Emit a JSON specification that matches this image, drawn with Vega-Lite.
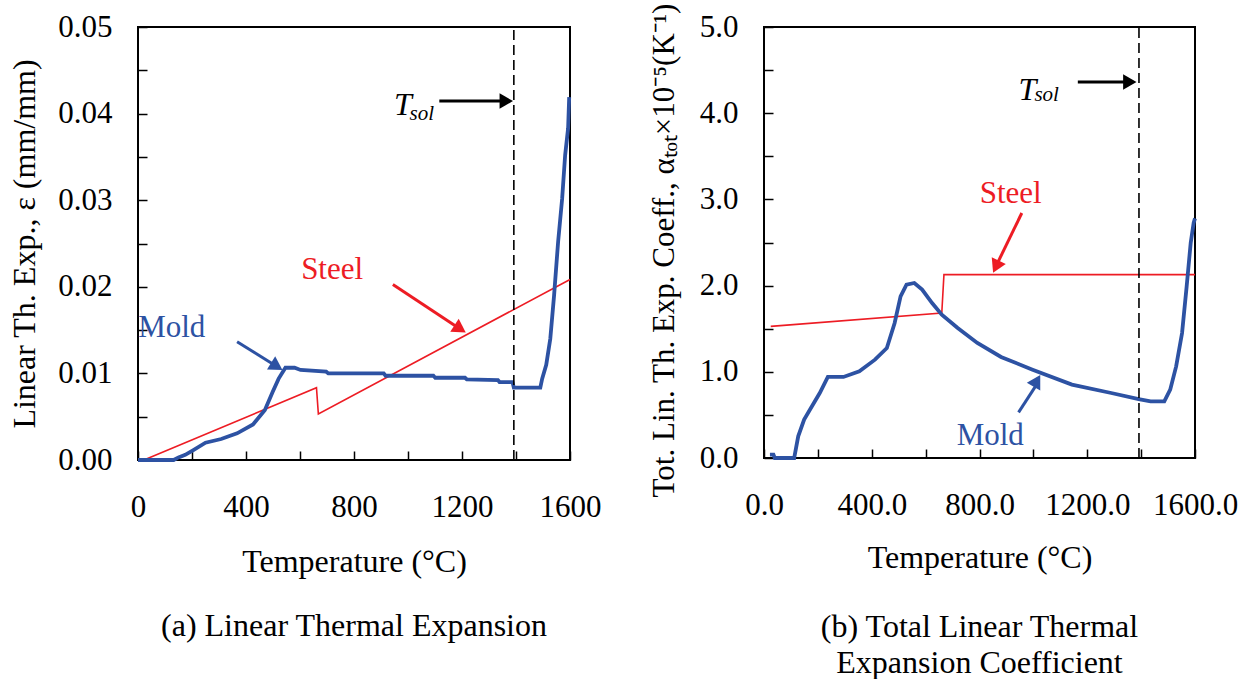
{
  "$schema": "https://vega.github.io/schema/vega-lite/v6.json",
  "background": "white",
  "padding": {"left": 7, "top": 1, "right": 5, "bottom": 5},
  "config": {
    "font": "Liberation Serif",
    "view": {"stroke": "black", "strokeWidth": 2},
    "axis": {"domain": false, "grid": false, "tickColor": "black", "tickSize": -9, "tickWidth": 1.5, "labelColor": "black", "labelFont": "Liberation Serif", "labelFontSize": 31, "titleFont": "Liberation Serif", "titleFontSize": 32, "titleFontWeight": "normal", "titleColor": "black", "labelFlush": false, "labelOverlap": false, "labelBound": false},
    "axisY": {"labelPadding": 35},
    "title": {"font": "Liberation Serif", "fontSize": 32, "fontWeight": "normal", "color": "black"}
  },
  "datasets": {
    "leftMold": [
      {"x": 0, "y": 0}, {"x": 132, "y": 0}, {"x": 150, "y": 0.0003}, {"x": 175, "y": 0.0006}, {"x": 205, "y": 0.00115}, {"x": 250, "y": 0.002}, {"x": 308, "y": 0.00242}, {"x": 367, "y": 0.00308}, {"x": 426, "y": 0.0041}, {"x": 470, "y": 0.00577}, {"x": 499, "y": 0.00788}, {"x": 521, "y": 0.0094}, {"x": 546, "y": 0.01065}, {"x": 580, "y": 0.01065}, {"x": 602, "y": 0.0104}, {"x": 697, "y": 0.0102}, {"x": 705, "y": 0.01}, {"x": 910, "y": 0.01}, {"x": 917, "y": 0.00973}, {"x": 1094, "y": 0.00973}, {"x": 1101, "y": 0.0095}, {"x": 1211, "y": 0.0095}, {"x": 1218, "y": 0.0093}, {"x": 1333, "y": 0.00923}, {"x": 1339, "y": 0.009}, {"x": 1387, "y": 0.009}, {"x": 1392, "y": 0.00835}, {"x": 1490, "y": 0.00835}, {"x": 1497, "y": 0.0094}, {"x": 1512, "y": 0.011}, {"x": 1527, "y": 0.014}, {"x": 1541, "y": 0.019}, {"x": 1556, "y": 0.0252}, {"x": 1571, "y": 0.0302}, {"x": 1582, "y": 0.0352}, {"x": 1593, "y": 0.0383}, {"x": 1597, "y": 0.0419}
    ],
    "leftSteel": [
      {"x": 22, "y": 0}, {"x": 661, "y": 0.00835}, {"x": 668, "y": 0.00531}, {"x": 1600, "y": 0.02085}
    ],
    "leftTsol": [{"x": 1392, "y": 0, "y2": 0.05}],
    "leftArrows": [
      {"series": "Mold", "x": 367, "y": 0.01365, "x2": 520, "y2": 0.01068},
      {"series": "Steel", "x": 944, "y": 0.02027, "x2": 1200, "y2": 0.01498},
      {"series": "Tsol", "x": 1116, "y": 0.04145, "x2": 1370, "y2": 0.04145}
    ],
    "leftHeads": [
      {"series": "Mold", "x": 514, "y": 0.01081},
      {"series": "Steel", "x": 1193, "y": 0.01514},
      {"series": "Tsol", "x": 1364, "y": 0.04145}
    ],
    "leftLabels": [
      {"series": "Mold", "label": "Mold", "x": 125, "y": 0.0152},
      {"series": "Steel", "label": "Steel", "x": 719, "y": 0.0219}
    ],
    "leftT": [{"series": "Tsol", "label": "T", "x": 948, "y": 0.0398}],
    "leftSub": [{"series": "Tsol", "label": "sol", "x": 1006, "y": 0.0393}],
    "rightMold": [
      {"x": 22, "y": 0.04}, {"x": 35, "y": 0.04}, {"x": 40, "y": 0}, {"x": 112, "y": 0}, {"x": 127, "y": 0.251}, {"x": 149, "y": 0.445}, {"x": 178, "y": 0.6}, {"x": 207, "y": 0.754}, {"x": 237, "y": 0.94}, {"x": 295, "y": 0.94}, {"x": 354, "y": 1.005}, {"x": 412, "y": 1.141}, {"x": 456, "y": 1.276}, {"x": 485, "y": 1.566}, {"x": 507, "y": 1.876}, {"x": 529, "y": 2.011}, {"x": 558, "y": 2.03}, {"x": 587, "y": 1.953}, {"x": 624, "y": 1.798}, {"x": 660, "y": 1.663}, {"x": 719, "y": 1.508}, {"x": 792, "y": 1.334}, {"x": 880, "y": 1.172}, {"x": 997, "y": 1.025}, {"x": 1143, "y": 0.851}, {"x": 1289, "y": 0.754}, {"x": 1391, "y": 0.684}, {"x": 1435, "y": 0.657}, {"x": 1486, "y": 0.657}, {"x": 1508, "y": 0.793}, {"x": 1530, "y": 1.063}, {"x": 1552, "y": 1.45}, {"x": 1569, "y": 1.99}, {"x": 1584, "y": 2.494}, {"x": 1595, "y": 2.726}, {"x": 1600, "y": 2.78}
    ],
    "rightSteel": [
      {"x": 25, "y": 1.527}, {"x": 660, "y": 1.682}, {"x": 668, "y": 2.127}, {"x": 1600, "y": 2.127}
    ],
    "rightTsol": [{"x": 1392, "y": 0, "y2": 5}],
    "rightArrows": [
      {"series": "Mold", "x": 945, "y": 0.53, "x2": 1018, "y2": 0.88},
      {"series": "Steel", "x": 957, "y": 2.842, "x2": 862, "y2": 2.23},
      {"series": "Tsol", "x": 1165, "y": 4.362, "x2": 1365, "y2": 4.362}
    ],
    "rightHeads": [
      {"series": "Mold", "x": 1013, "y": 0.896},
      {"series": "Steel", "x": 861, "y": 2.219},
      {"series": "Tsol", "x": 1358, "y": 4.362}
    ],
    "rightLabels": [
      {"series": "Mold", "label": "Mold", "x": 840, "y": 0.251},
      {"series": "Steel", "label": "Steel", "x": 916, "y": 3.067}
    ],
    "rightT": [{"series": "Tsol", "label": "T", "x": 945, "y": 4.157}],
    "rightSub": [{"series": "Tsol", "label": "sol", "x": 1004, "y": 4.138}]
  },
  "bounds": "flush",
  "spacing": 194,
  "hconcat": [
    {
      "width": 432,
      "height": 433,
      "title": {"text": "(a) Linear Thermal Expansion", "orient": "bottom", "offset": 34},
      "encoding": {
        "x": {"field": "x", "type": "quantitative", "scale": {"domain": [0, 1600], "nice": false, "zero": false},
          "axis": {"values": [0, 200, 400, 600, 800, 1000, 1200, 1400, 1600], "labelExpr": "datum.value % 400 === 0 ? format(datum.value, 'd') : ''", "title": "Temperature (°C)", "labelPadding": 41, "titlePadding": 24}},
        "y": {"field": "y", "type": "quantitative", "scale": {"domain": [0, 0.05], "nice": false},
          "axis": {"values": [0, 0.005, 0.01, 0.015, 0.02, 0.025, 0.03, 0.035, 0.04, 0.045, 0.05], "labelExpr": "abs(datum.value*100 - round(datum.value*100)) < 0.001 ? format(datum.value, '.2f') : ''", "title": "Linear Th. Exp., ε (mm/mm)", "titlePadding": 16}}
      },
      "layer": [
        {"data": {"name": "leftSteel"}, "mark": {"type": "line", "color": "#ed1c24", "strokeWidth": 1.6}},
        {"data": {"name": "leftMold"}, "mark": {"type": "line", "color": "#2d52a3", "strokeWidth": 3.8}},
        {"data": {"name": "leftTsol"}, "mark": {"type": "rule", "color": "black", "strokeWidth": 1.6, "strokeDash": [10, 5]}, "encoding": {"y2": {"field": "y2"}}},
        {"data": {"name": "leftArrows"}, "mark": {"type": "rule", "strokeWidth": 3},
          "encoding": {"x2": {"field": "x2"}, "y2": {"field": "y2"},
            "color": {"field": "series", "type": "nominal", "scale": {"domain": ["Mold", "Steel", "Tsol"], "range": ["#2d52a3", "#ed1c24", "black"]}, "legend": null}}},
        {"data": {"name": "leftHeads"}, "transform": [{"filter": "datum.series === 'Mold'"}], "mark": {"type": "point", "shape": "triangle-up", "filled": true, "opacity": 1, "size": 240, "angle": 122, "color": "#2d52a3"}},
        {"data": {"name": "leftHeads"}, "transform": [{"filter": "datum.series === 'Steel'"}], "mark": {"type": "point", "shape": "triangle-up", "filled": true, "opacity": 1, "size": 240, "angle": 123, "color": "#ed1c24"}},
        {"data": {"name": "leftHeads"}, "transform": [{"filter": "datum.series === 'Tsol'"}], "mark": {"type": "point", "shape": "triangle-up", "filled": true, "opacity": 1, "size": 240, "angle": 90, "color": "black"}},
        {"data": {"name": "leftLabels"}, "mark": {"type": "text", "fontSize": 31, "align": "center", "baseline": "middle"},
          "encoding": {"text": {"field": "label"}, "color": {"field": "series", "type": "nominal", "scale": {"domain": ["Mold", "Steel", "Tsol"], "range": ["#2d52a3", "#ed1c24", "black"]}, "legend": null}}},
        {"data": {"name": "leftT"}, "mark": {"type": "text", "fontSize": 32, "fontStyle": "italic", "align": "left", "baseline": "alphabetic", "color": "black"}, "encoding": {"text": {"field": "label"}}},
        {"data": {"name": "leftSub"}, "mark": {"type": "text", "fontSize": 21, "fontStyle": "italic", "align": "left", "baseline": "alphabetic", "color": "black"}, "encoding": {"text": {"field": "label"}}}
      ]
    },
    {
      "width": 431,
      "height": 431,
      "title": {"text": ["(b) Total Linear Thermal", "Expansion Coefficient"], "orient": "bottom", "offset": 39, "lineHeight": 36},
      "encoding": {
        "x": {"field": "x", "type": "quantitative", "scale": {"domain": [0, 1600], "nice": false, "zero": false},
          "axis": {"values": [0, 200, 400, 600, 800, 1000, 1200, 1400, 1600], "labelExpr": "datum.value % 400 === 0 ? format(datum.value, '.1f') : ''", "title": "Temperature (°C)", "labelPadding": 41, "titlePadding": 22}},
        "y": {"field": "y", "type": "quantitative", "scale": {"domain": [0, 5], "nice": false},
          "axis": {"values": [0, 0.5, 1, 1.5, 2, 2.5, 3, 3.5, 4, 4.5, 5], "labelExpr": "datum.value % 1 === 0 ? format(datum.value, '.1f') : ''", "title": "Tot. Lin. Th. Exp. Coeff., αₜₒₜ×10⁻⁵(K⁻¹)", "titleFontSize": 31, "titlePadding": 19, "titleY": 223}}
      },
      "layer": [
        {"data": {"name": "rightSteel"}, "mark": {"type": "line", "color": "#ed1c24", "strokeWidth": 1.6}},
        {"data": {"name": "rightMold"}, "mark": {"type": "line", "color": "#2d52a3", "strokeWidth": 3.8}},
        {"data": {"name": "rightTsol"}, "mark": {"type": "rule", "color": "black", "strokeWidth": 1.6, "strokeDash": [10, 5]}, "encoding": {"y2": {"field": "y2"}}},
        {"data": {"name": "rightArrows"}, "mark": {"type": "rule", "strokeWidth": 3},
          "encoding": {"x2": {"field": "x2"}, "y2": {"field": "y2"},
            "color": {"field": "series", "type": "nominal", "scale": {"domain": ["Mold", "Steel", "Tsol"], "range": ["#2d52a3", "#ed1c24", "black"]}, "legend": null}}},
        {"data": {"name": "rightHeads"}, "transform": [{"filter": "datum.series === 'Mold'"}], "mark": {"type": "point", "shape": "triangle-up", "filled": true, "opacity": 1, "size": 240, "angle": 30, "color": "#2d52a3"}},
        {"data": {"name": "rightHeads"}, "transform": [{"filter": "datum.series === 'Steel'"}], "mark": {"type": "point", "shape": "triangle-up", "filled": true, "opacity": 1, "size": 240, "angle": 205, "color": "#ed1c24"}},
        {"data": {"name": "rightHeads"}, "transform": [{"filter": "datum.series === 'Tsol'"}], "mark": {"type": "point", "shape": "triangle-up", "filled": true, "opacity": 1, "size": 240, "angle": 90, "color": "black"}},
        {"data": {"name": "rightLabels"}, "mark": {"type": "text", "fontSize": 31, "align": "center", "baseline": "middle"},
          "encoding": {"text": {"field": "label"}, "color": {"field": "series", "type": "nominal", "scale": {"domain": ["Mold", "Steel", "Tsol"], "range": ["#2d52a3", "#ed1c24", "black"]}, "legend": null}}},
        {"data": {"name": "rightT"}, "mark": {"type": "text", "fontSize": 32, "fontStyle": "italic", "align": "left", "baseline": "alphabetic", "color": "black"}, "encoding": {"text": {"field": "label"}}},
        {"data": {"name": "rightSub"}, "mark": {"type": "text", "fontSize": 21, "fontStyle": "italic", "align": "left", "baseline": "alphabetic", "color": "black"}, "encoding": {"text": {"field": "label"}}}
      ]
    }
  ]
}
